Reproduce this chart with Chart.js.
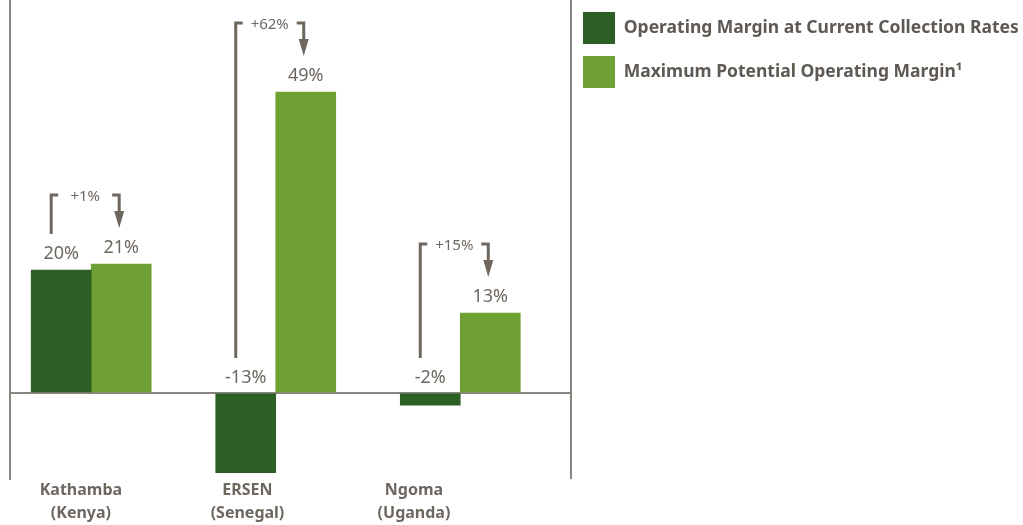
<!DOCTYPE html>
<html>
<head>
<meta charset="utf-8">
<script src="https://cdn.jsdelivr.net/npm/chart.js@4.4.0/dist/chart.umd.min.js"></script>
<style>
  body { margin: 0; background: #fff; }
  canvas { display: block; }
</style>
</head>
<body>
<canvas id="marginChart" width="1023" height="525"></canvas>
<script>
const sites = ['Kathamba', 'ERSEN', 'Ngoma'];
const countries = ['(Kenya)', '(Senegal)', '(Uganda)'];
const currentMargin = [20, -13, -2];
const potentialMargin = [21, 49, 13];
const upliftLabels = ['+1%', '+62%', '+15%'];
const seriesNames = ['Operating Margin at Current Collection Rates', 'Maximum Potential Operating Margin\u00B9'];

const DARK = '#2c5f23';
const LIGHT = '#6fa033';
const GREY = '#6d6760';
const LINE = '#8a847e';
const FONT = "'Noto Sans', sans-serif";

// value labels over bars + the "+x%" bracket arrows
const annotations = {
    id: 'annotations',
    afterDatasetsDraw: (chart) => {
        const ctx = chart.ctx;
        const dark = chart.getDatasetMeta(0).data;
        const light = chart.getDatasetMeta(1).data;
        const labelY = bar => Math.min(bar.y, bar.base) - 16;

        ctx.save();
        ctx.fillStyle = GREY;
        ctx.textAlign = 'center';
        ctx.textBaseline = 'middle';
        ctx.font = `18px ${FONT}`;
        dark.forEach((bar, i) => ctx.fillText(currentMargin[i] + '%', bar.x, labelY(bar)));
        light.forEach((bar, i) => ctx.fillText(potentialMargin[i] + '%', bar.x, labelY(bar)));

        ctx.strokeStyle = GREY;
        ctx.lineWidth = 3;
        ctx.lineJoin = 'miter';
        ctx.font = `15px ${FONT}`;
        sites.forEach((s, i) => {
            const tipY = labelY(light[i]) - 20;
            const topY = tipY - 33;
            const leftX = dark[i].x - 10;
            const rightX = light[i].x - 2;

            ctx.beginPath();
            ctx.moveTo(leftX, labelY(dark[i]) - 20);
            ctx.lineTo(leftX, topY);
            ctx.lineTo(leftX + 7, topY);
            ctx.stroke();

            ctx.beginPath();
            ctx.moveTo(rightX - 7, topY);
            ctx.lineTo(rightX, topY);
            ctx.lineTo(rightX, tipY - 12);
            ctx.stroke();

            ctx.beginPath();
            ctx.moveTo(rightX - 5, tipY - 17);
            ctx.lineTo(rightX + 5, tipY - 17);
            ctx.lineTo(rightX, tipY);
            ctx.closePath();
            ctx.fill();

            ctx.fillText(upliftLabels[i], (leftX + rightX) / 2, topY + 2);
        });
        ctx.restore();
    }
};

const ctx = document.getElementById('marginChart').getContext('2d');
new Chart(ctx, {
    type: 'bar',
    data: {
        datasets: [
            {
                label: seriesNames[0],
                data: currentMargin.map((v, i) => ({ x: i, y: v })),
                backgroundColor: DARK,
                borderWidth: 0,
                barThickness: 60
            },
            {
                label: seriesNames[1],
                data: potentialMargin.map((v, i) => ({ x: i, y: v })),
                backgroundColor: LIGHT,
                borderWidth: 0,
                barThickness: 60
            }
        ]
    },
    options: {
        responsive: false,
        devicePixelRatio: 1,
        animation: false,
        layout: { padding: { left: 10, right: 0, top: 0, bottom: 0 } },
        scales: {
            x: { type: 'linear', display: false, offset: false, min: -0.44, max: 2.6 },
            names: {
                type: 'linear',
                position: 'bottom',
                offset: false,
                min: -0.426,
                max: 2.943,
                afterBuildTicks: axis => { axis.ticks = sites.map((s, i) => ({ value: i })); },
                grid: { display: false, drawTicks: false },
                border: { display: false },
                ticks: {
                    callback: v => [sites[v], countries[v]],
                    color: GREY,
                    font: { family: FONT, size: 16, weight: 'bold', lineHeight: 1.38 },
                    padding: 1,
                    maxRotation: 0,
                    autoSkip: false
                }
            },
            y: {
                min: -14,
                max: 64,
                ticks: { display: false },
                grid: {
                    drawTicks: false,
                    lineWidth: 2,
                    color: c => c.tick && c.tick.value === 0 ? LINE : 'rgba(0,0,0,0)'
                },
                border: { color: LINE, width: 2 }
            },
            yRight: {
                position: 'right',
                min: -14,
                max: 64,
                ticks: { display: false },
                grid: { display: false, drawTicks: false },
                border: { color: LINE, width: 2 }
            }
        },
        plugins: {
            legend: {
                position: 'right',
                align: 'start',
                maxWidth: 452,
                labels: {
                    boxWidth: 32,
                    boxHeight: 32,
                    padding: 12,
                    color: '#5e5953',
                    font: { family: FONT, size: 17.5, weight: 'bold' }
                }
            },
            tooltip: { enabled: false }
        }
    },
    plugins: [annotations]
});
</script>
</body>
</html>
